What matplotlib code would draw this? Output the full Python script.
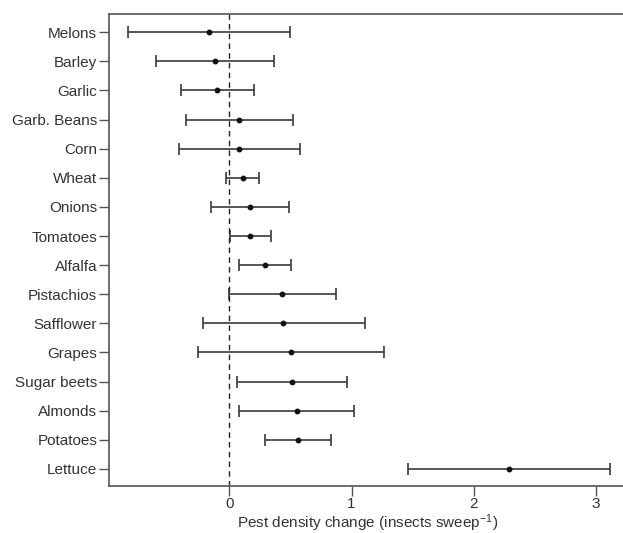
import matplotlib
matplotlib.use("Agg")
import matplotlib.pyplot as plt

plt.rcParams['font.family'] = ['Liberation Sans', 'DejaVu Sans']
plt.rcParams['mathtext.fontset'] = 'custom'
plt.rcParams['mathtext.rm'] = 'Liberation Sans'
plt.rcParams['mathtext.it'] = 'Liberation Sans'

# data
crops = ['Melons', 'Barley', 'Garlic', 'Garb. Beans', 'Corn', 'Wheat', 'Onions',
         'Tomatoes', 'Alfalfa', 'Pistachios', 'Safflower', 'Grapes', 'Sugar beets',
         'Almonds', 'Potatoes', 'Lettuce']
mean = [-0.17, -0.12, -0.10, 0.08, 0.08, 0.11, 0.17, 0.17, 0.29, 0.43, 0.44, 0.50,
        0.51, 0.55, 0.56, 2.29]
lower = [-0.83, -0.60, -0.40, -0.355, -0.41, -0.03, -0.15, 0.005, 0.075, 0.0, -0.22,
         -0.26, 0.06, 0.08, 0.29, 1.46]
upper = [0.495, 0.365, 0.20, 0.52, 0.58, 0.245, 0.49, 0.34, 0.50, 0.87, 1.11, 1.27,
         0.96, 1.02, 0.835, 3.12]

col = '#3a3a3a'
fig = plt.figure(figsize=(6.23, 5.33), dpi=100)
ax = fig.add_axes([0.175, 0.089, 0.83, 0.885])

ypos = list(range(len(crops)))
err = [[m - l for m, l in zip(mean, lower)], [u - m for m, u in zip(mean, upper)]]
ax.errorbar(mean, ypos, xerr=err, fmt='o', color='#111111', ecolor=col, elinewidth=1.2,
            capsize=4, capthick=1.2, markersize=3.2)
ax.axvline(0, color='#222222', linestyle=(0, (4, 3)), linewidth=1.0)

ax.set_yticks(ypos)
ax.set_yticklabels(crops)
ax.set_xticks([0, 1, 2, 3])
ax.set_xlim(-0.987, 3.25)
ax.set_ylim(15.57, -0.63)
ax.set_xlabel(r'Pest density change (insects sweep$^{-1}$)', fontsize=11, color='#333333', labelpad=0.5)

ax.spines['right'].set_visible(False)
for s in ['left', 'bottom', 'top']:
    ax.spines[s].set_color('#555555')
    ax.spines[s].set_linewidth(1.2)
ax.tick_params(axis='both', length=7, width=1.0, color='#555555', labelsize=11,
               labelcolor='#333333', pad=1.5)

fig.savefig('out.png', dpi=100)
